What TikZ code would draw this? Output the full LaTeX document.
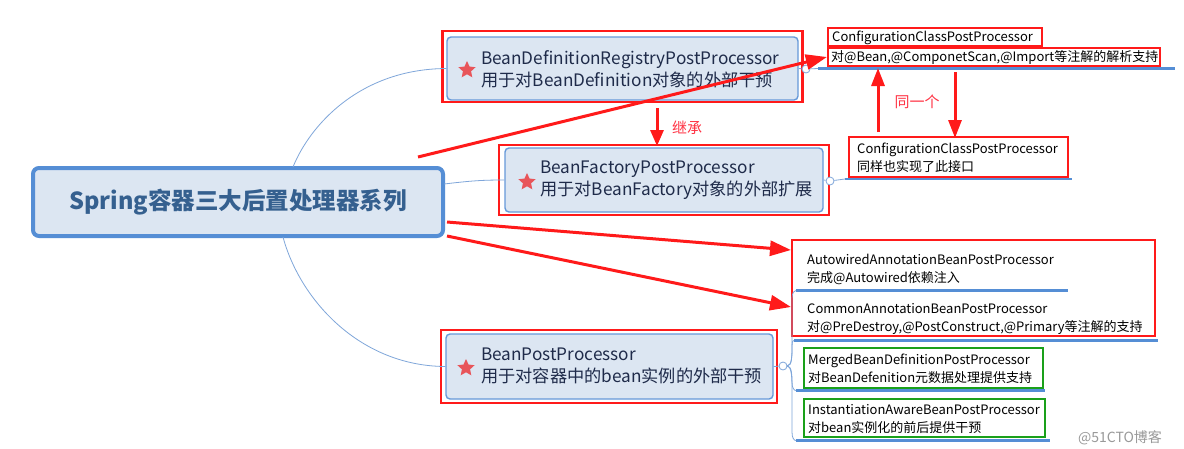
\documentclass[tikz,border=0pt]{standalone}
\usepackage{fontspec}
\setmainfont{Noto Sans CJK SC}
\usetikzlibrary{shapes.geometric,arrows.meta}
\definecolor{cfill}{HTML}{DCE6F2}
\definecolor{cblue}{HTML}{558ED5}
\definecolor{lblue}{HTML}{7FA6DA}
\definecolor{ctext}{HTML}{35608F}
\definecolor{ntext}{HTML}{1F2B4A}
\definecolor{rred}{HTML}{FF1A1A}
\definecolor{lred}{HTML}{FF3344}
\definecolor{ggreen}{HTML}{1AA01A}
\definecolor{starc}{HTML}{E8555A}
\tikzset{
  centerbox/.style={draw=cblue, line width=4pt, fill=cfill, rounded corners=6pt, minimum width=410pt, minimum height=68pt, text=ctext, font=\fontsize{23.5}{26}\selectfont\bfseries},
  innerbox/.style={draw=cblue!90, line width=1.4pt, fill=cfill, rounded corners=4pt},
  redbox/.style={draw=rred, line width=2.2pt},
  greenbox/.style={draw=ggreen, line width=2.2pt},
  maintext/.style={anchor=west, align=left, text=ntext, font=\fontsize{17.2}{22}\selectfont, inner sep=0pt},
  smalltext/.style={anchor=west, align=left, text=black, font=\fontsize{13}{18}\selectfont, inner sep=0pt},
  starmark/.style={star, star points=5, star point ratio=2.1, fill=starc, inner sep=0pt, minimum size=18pt},
  conn/.style={draw=lblue, line width=0.8pt},
  uline/.style={draw=cblue, line width=2.4pt},
  knob/.style={circle, draw=lblue, fill=white, line width=0.8pt, minimum size=8pt, inner sep=0pt},
  bigarrow/.style={draw=rred, line width=3pt, -{Triangle[length=21pt,width=15pt]}},
  redlabel/.style={text=lred, font=\fontsize{15}{17}\selectfont, inner sep=0pt},
}
\begin{document}
\begin{tikzpicture}[x=1pt,y=-1pt]
\useasboundingbox (0,0) rectangle (1184,448);
\fill[white] (0,0) rectangle (1184,448);

% central node
\node[centerbox] (center) at (238,202) {Spring容器三大后置处理器系列};

% BDRPP
\node[redbox, minimum width=360pt, minimum height=71pt] (bdrppR) at (622.5,66.5) {};
\node[innerbox, minimum width=351pt, minimum height=63pt] (bdrpp) at (622.5,68.5) {};
\node[starmark] (s1) at (467,70) {};
\node[maintext] (t1) at (481,69) {BeanDefinitionRegistryPostProcessor\\用于对BeanDefinition对象的外部干预};

% BFPP
\node[redbox, minimum width=330pt, minimum height=70pt] (bfppR) at (664,180) {};
\node[innerbox, minimum width=318pt, minimum height=64pt] (bfpp) at (664,180) {};
\node[starmark] (s2) at (527,182) {};
\node[maintext] (t2) at (540,180) {BeanFactoryPostProcessor\\用于对BeanFactory对象的外部扩展};

% BPP
\node[redbox, minimum width=336pt, minimum height=73pt] (bppR) at (609,366.5) {};
\node[innerbox, minimum width=327pt, minimum height=65pt] (bpp) at (609.5,366.5) {};
\node[starmark] (s3) at (466,368) {};
\node[maintext] (t3) at (481,366) {BeanPostProcessor\\用于对容器中的bean实例的外部干预};

% connectors from center
\coordinate (ctop) at (293,167);
\coordinate (cbot) at (283,237);
\coordinate (cright) at (444,184);
\draw[conn] (ctop) .. controls (310,125) and (360,69) .. (bdrpp.west);
\draw[conn] (cright) .. controls (470,181) and (480,180) .. (bfpp.west);
\draw[conn] (cbot) .. controls (300,300) and (360,366) .. (bpp.west);

% top right: ConfigurationClassPostProcessor
\node[redbox, minimum width=214pt, minimum height=18pt] (ccpR) at (935,37) {};
\node[smalltext] (ccp) at (832,37.5) {ConfigurationClassPostProcessor};
\node[redbox, minimum width=332pt, minimum height=18pt] (annR) at (994,57) {};
\node[smalltext] (ann) at (831,57) {对@Bean,@ComponetScan,@Import等注解的解析支持};
\coordinate (u1a) at (818,68.5);
\coordinate (u1b) at (1175,68.5);
\draw[uline] (u1a) -- (u1b);
\node[knob] (k1) at (806,69) {};
\draw[conn] (bdrpp.east) -- (k1) -- (u1a);

% second ConfigurationClassPostProcessor
\node[redbox, minimum width=219pt, minimum height=40pt] (ccp2R) at (958.5,157) {};
\node[smalltext] (ccp2) at (857,158) {ConfigurationClassPostProcessor\\同样也实现了此接口};
\coordinate (u2a) at (845,179);
\coordinate (u2b) at (1072,179);
\draw[uline] (u2a) -- (u2b);
\node[knob] (k2) at (830,181) {};
\draw[conn] (bfpp.east) -- (k2) -- (u2a);

% same-one arrows
\coordinate (upS) at (878,132);
\coordinate (upE) at (878,68);
\coordinate (dnS) at (955,72);
\coordinate (dnE) at (955,138);
\draw[draw=rred, line width=3pt, -{Triangle[length=18pt,width=13pt]}] (upS) -- (upE);
\draw[draw=rred, line width=3pt, -{Triangle[length=18pt,width=13pt]}] (dnS) -- (dnE);
\node[redlabel] (same) at (917,102) {同一个};

% inherit arrow
\coordinate (inhS) at (657,108);
\coordinate (inhE) at (657,146);
\draw[draw=rred, line width=3pt, -{Triangle[length=16pt,width=13pt]}] (inhS) -- (inhE);
\node[redlabel] (inh) at (687,128) {继承};

% big arrows from center area
\coordinate (a1s) at (418,157);
\draw[bigarrow] (a1s) -- (annR.west);
\coordinate (a2s) at (447,222);
\coordinate (a2e) at (791,250);
\draw[bigarrow] (a2s) -- (a2e);
\coordinate (a3s) at (447,236);
\coordinate (a3e) at (791,307);
\draw[bigarrow] (a3s) -- (a3e);

% lower right group
\node[redbox, minimum width=363pt, minimum height=96pt] (grpR) at (973.5,288) {};
\node[smalltext] (aab) at (807,269) {AutowiredAnnotationBeanPostProcessor\\完成@Autowired依赖注入};
\node[smalltext] (cab) at (807,319) {CommonAnnotationBeanPostProcessor\\对@PreDestroy,@PostConstruct,@Primary等注解的支持};
\node[greenbox, minimum width=239pt, minimum height=40pt] (mbdR) at (923.5,368) {};
\node[smalltext] (mbd) at (808,369) {MergedBeanDefinitionPostProcessor\\对BeanDefenition元数据处理提供支持};
\node[greenbox, minimum width=241pt, minimum height=38pt] (iabR) at (924.5,418) {};
\node[smalltext] (iab) at (808,418.5) {InstantiationAwareBeanPostProcessor\\对bean实例化的前后提供干预};

\coordinate (u3a) at (796,290.5);
\coordinate (u3b) at (1068,290.5);
\coordinate (u4a) at (794,340.5);
\coordinate (u4b) at (1158,340.5);
\coordinate (u5a) at (796,390.5);
\coordinate (u5b) at (1045,390.5);
\coordinate (u6a) at (796,440.5);
\coordinate (u6b) at (1050,440.5);
\draw[uline] (u3a) -- (u3b);
\draw[uline] (u4a) -- (u4b);
\draw[uline] (u5a) -- (u5b);
\draw[uline] (u6a) -- (u6b);

\node[knob] (k3) at (783,366) {};
\draw[conn] (bpp.east) -- (k3);
\coordinate (br) at (787,366);
\draw[conn] (br) .. controls (792,366) and (792,355) .. (792,345) -- (792,300) .. controls (792,292) and (794,290.5) .. (u3a);
\draw[conn] (br) .. controls (792,366) and (792,356) .. (792,350) .. controls (792,343) and (792,340.5) .. (u4a);
\draw[conn] (br) .. controls (792,366) and (792,376) .. (792,382) .. controls (792,388) and (794,390.5) .. (u5a);
\draw[conn] (br) .. controls (792,366) and (792,380) .. (792,390) -- (792,432) .. controls (792,438) and (794,440.5) .. (u6a);

% watermark
\node[text=gray!80, font=\fontsize{14}{16}\selectfont, inner sep=0pt] (wm) at (1120,438) {@51CTO博客};
\end{tikzpicture}
\end{document}
